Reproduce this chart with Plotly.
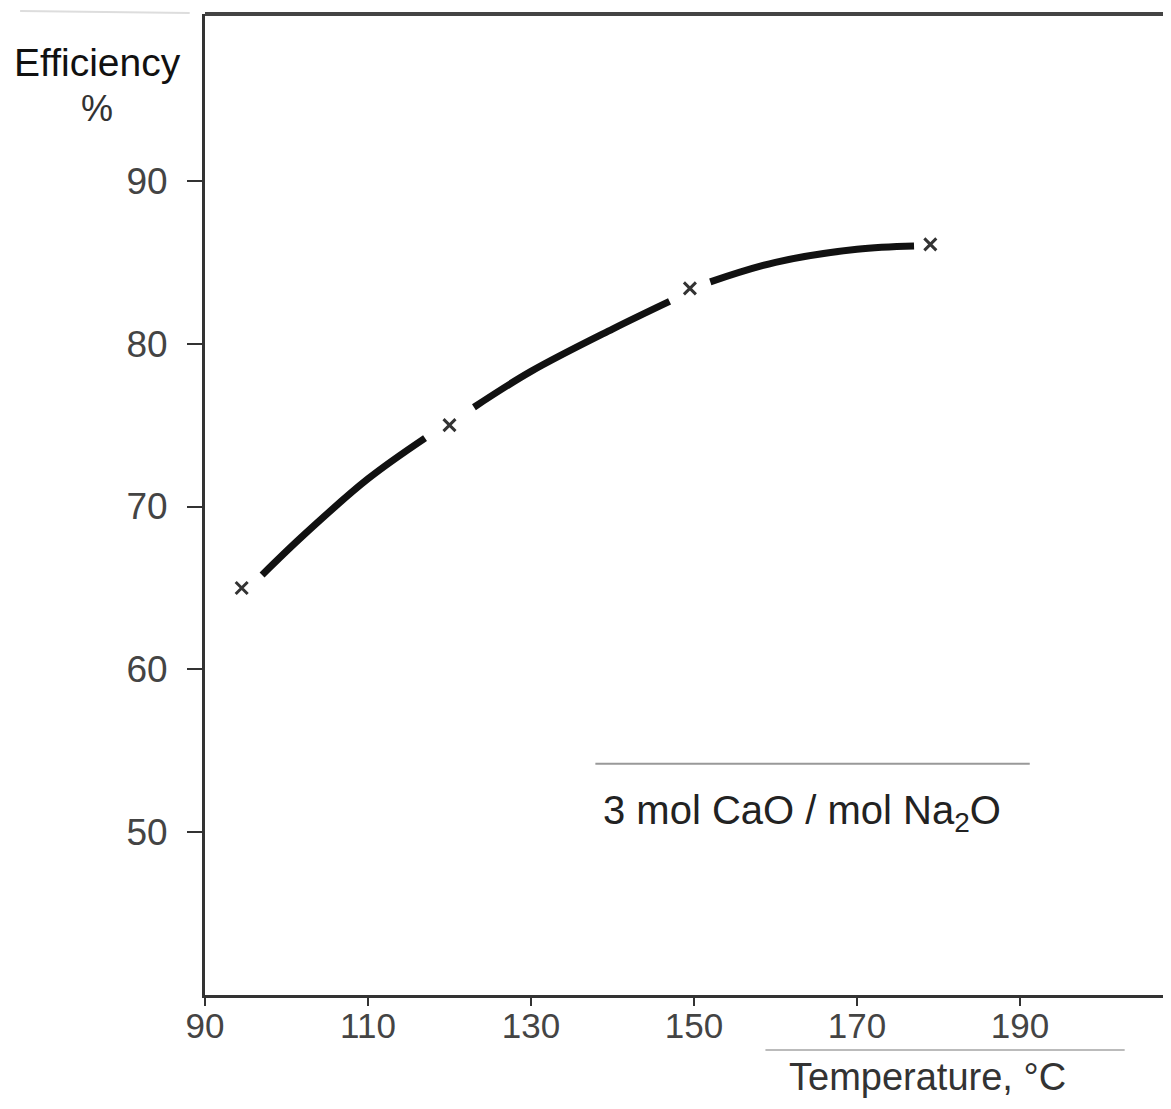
import plotly.graph_objects as go

# Data
curve_temp = [97, 102, 110, 117, None, 123, 130, 140, 147, None, 152, 160, 170, 177]
curve_eff = [65.8, 68.2, 71.7, 74.2, None, 76.1, 78.3, 80.9, 82.6, None, 83.8, 85.0, 85.8, 86.0]
marker_temp = [94.5, 120, 149.5, 179]
marker_eff = [65.0, 75.0, 83.4, 86.1]
x_ticks = [90, 110, 130, 150, 170, 190]
y_ticks = [50, 60, 70, 80, 90]
label_text = "3 mol CaO / mol Na<sub>2</sub>O"

FONT = "Liberation Sans, Arial, sans-serif"

fig = go.Figure()
fig.add_trace(go.Scatter(
    x=curve_temp, y=curve_eff, mode="lines",
    line=dict(color="#111111", width=7, shape="spline", smoothing=1.0),
    connectgaps=False, showlegend=False, hoverinfo="skip",
))
fig.add_trace(go.Scatter(
    x=marker_temp, y=marker_eff, mode="markers",
    marker=dict(symbol="x-thin", size=12, line=dict(color="#333333", width=3)),
    showlegend=False,
))

fig.update_layout(
    width=1155, height=1093,
    margin=dict(l=197, r=0, t=6, b=106),
    paper_bgcolor="white", plot_bgcolor="white",
    font=dict(family=FONT, size=34, color="#333333"),
    xaxis=dict(
        range=[90, 207.55], tickvals=x_ticks, ticks="outside", ticklen=8, tickwidth=2,
        tickcolor="#333333", showline=True, linecolor="#333333", linewidth=3,
        showgrid=False, zeroline=False, tickfont=dict(size=35, color="#444444"),
        ticklabelstandoff=-10,
    ),
    yaxis=dict(
        range=[40, 100.25], tickvals=y_ticks, ticks="outside", ticklen=15, tickwidth=2,
        tickcolor="#333333", showline=True, linecolor="#333333", linewidth=3,
        showgrid=False, zeroline=False, tickfont=dict(size=37, color="#444444"),
        ticklabelstandoff=12,
    ),
    shapes=[
        dict(type="line", xref="paper", yref="paper", x0=0, x1=1, y0=1, y1=1,
             line=dict(color="#444444", width=4)),
        dict(type="line", xref="x", yref="y", x0=137.9, x1=191.2, y0=54.2, y1=54.2,
             line=dict(color="#999999", width=2)),
        dict(type="line", xref="paper", yref="paper", x0=0.585, x1=0.96, y0=-0.056, y1=-0.056,
             line=dict(color="#bbbbbb", width=2)),
        dict(type="line", xref="paper", yref="paper", x0=-0.193, x1=-0.016, y0=1.003, y1=1.001,
             line=dict(color="#dddddd", width=2)),
    ],
    annotations=[
        dict(text="Efficiency", xref="paper", yref="paper", x=-0.1117, y=0.951,
             showarrow=False, font=dict(size=39, color="#111111"), xanchor="center", yanchor="middle"),
        dict(text="%", xref="paper", yref="paper", x=-0.113, y=0.904,
             showarrow=False, font=dict(size=36, color="#333333"), xanchor="center", yanchor="middle"),
        dict(text=label_text, xref="x", yref="y", x=163.3, y=51.2,
             showarrow=False, font=dict(size=40, color="#222222"), xanchor="center", yanchor="middle"),
        dict(text="Temperature, °C", xref="paper", yref="paper", x=0.754, y=-0.107,
             showarrow=False, font=dict(size=38, color="#333333"),
             xanchor="center", yanchor="bottom"),
    ],
)

fig.write_html("out.html")
